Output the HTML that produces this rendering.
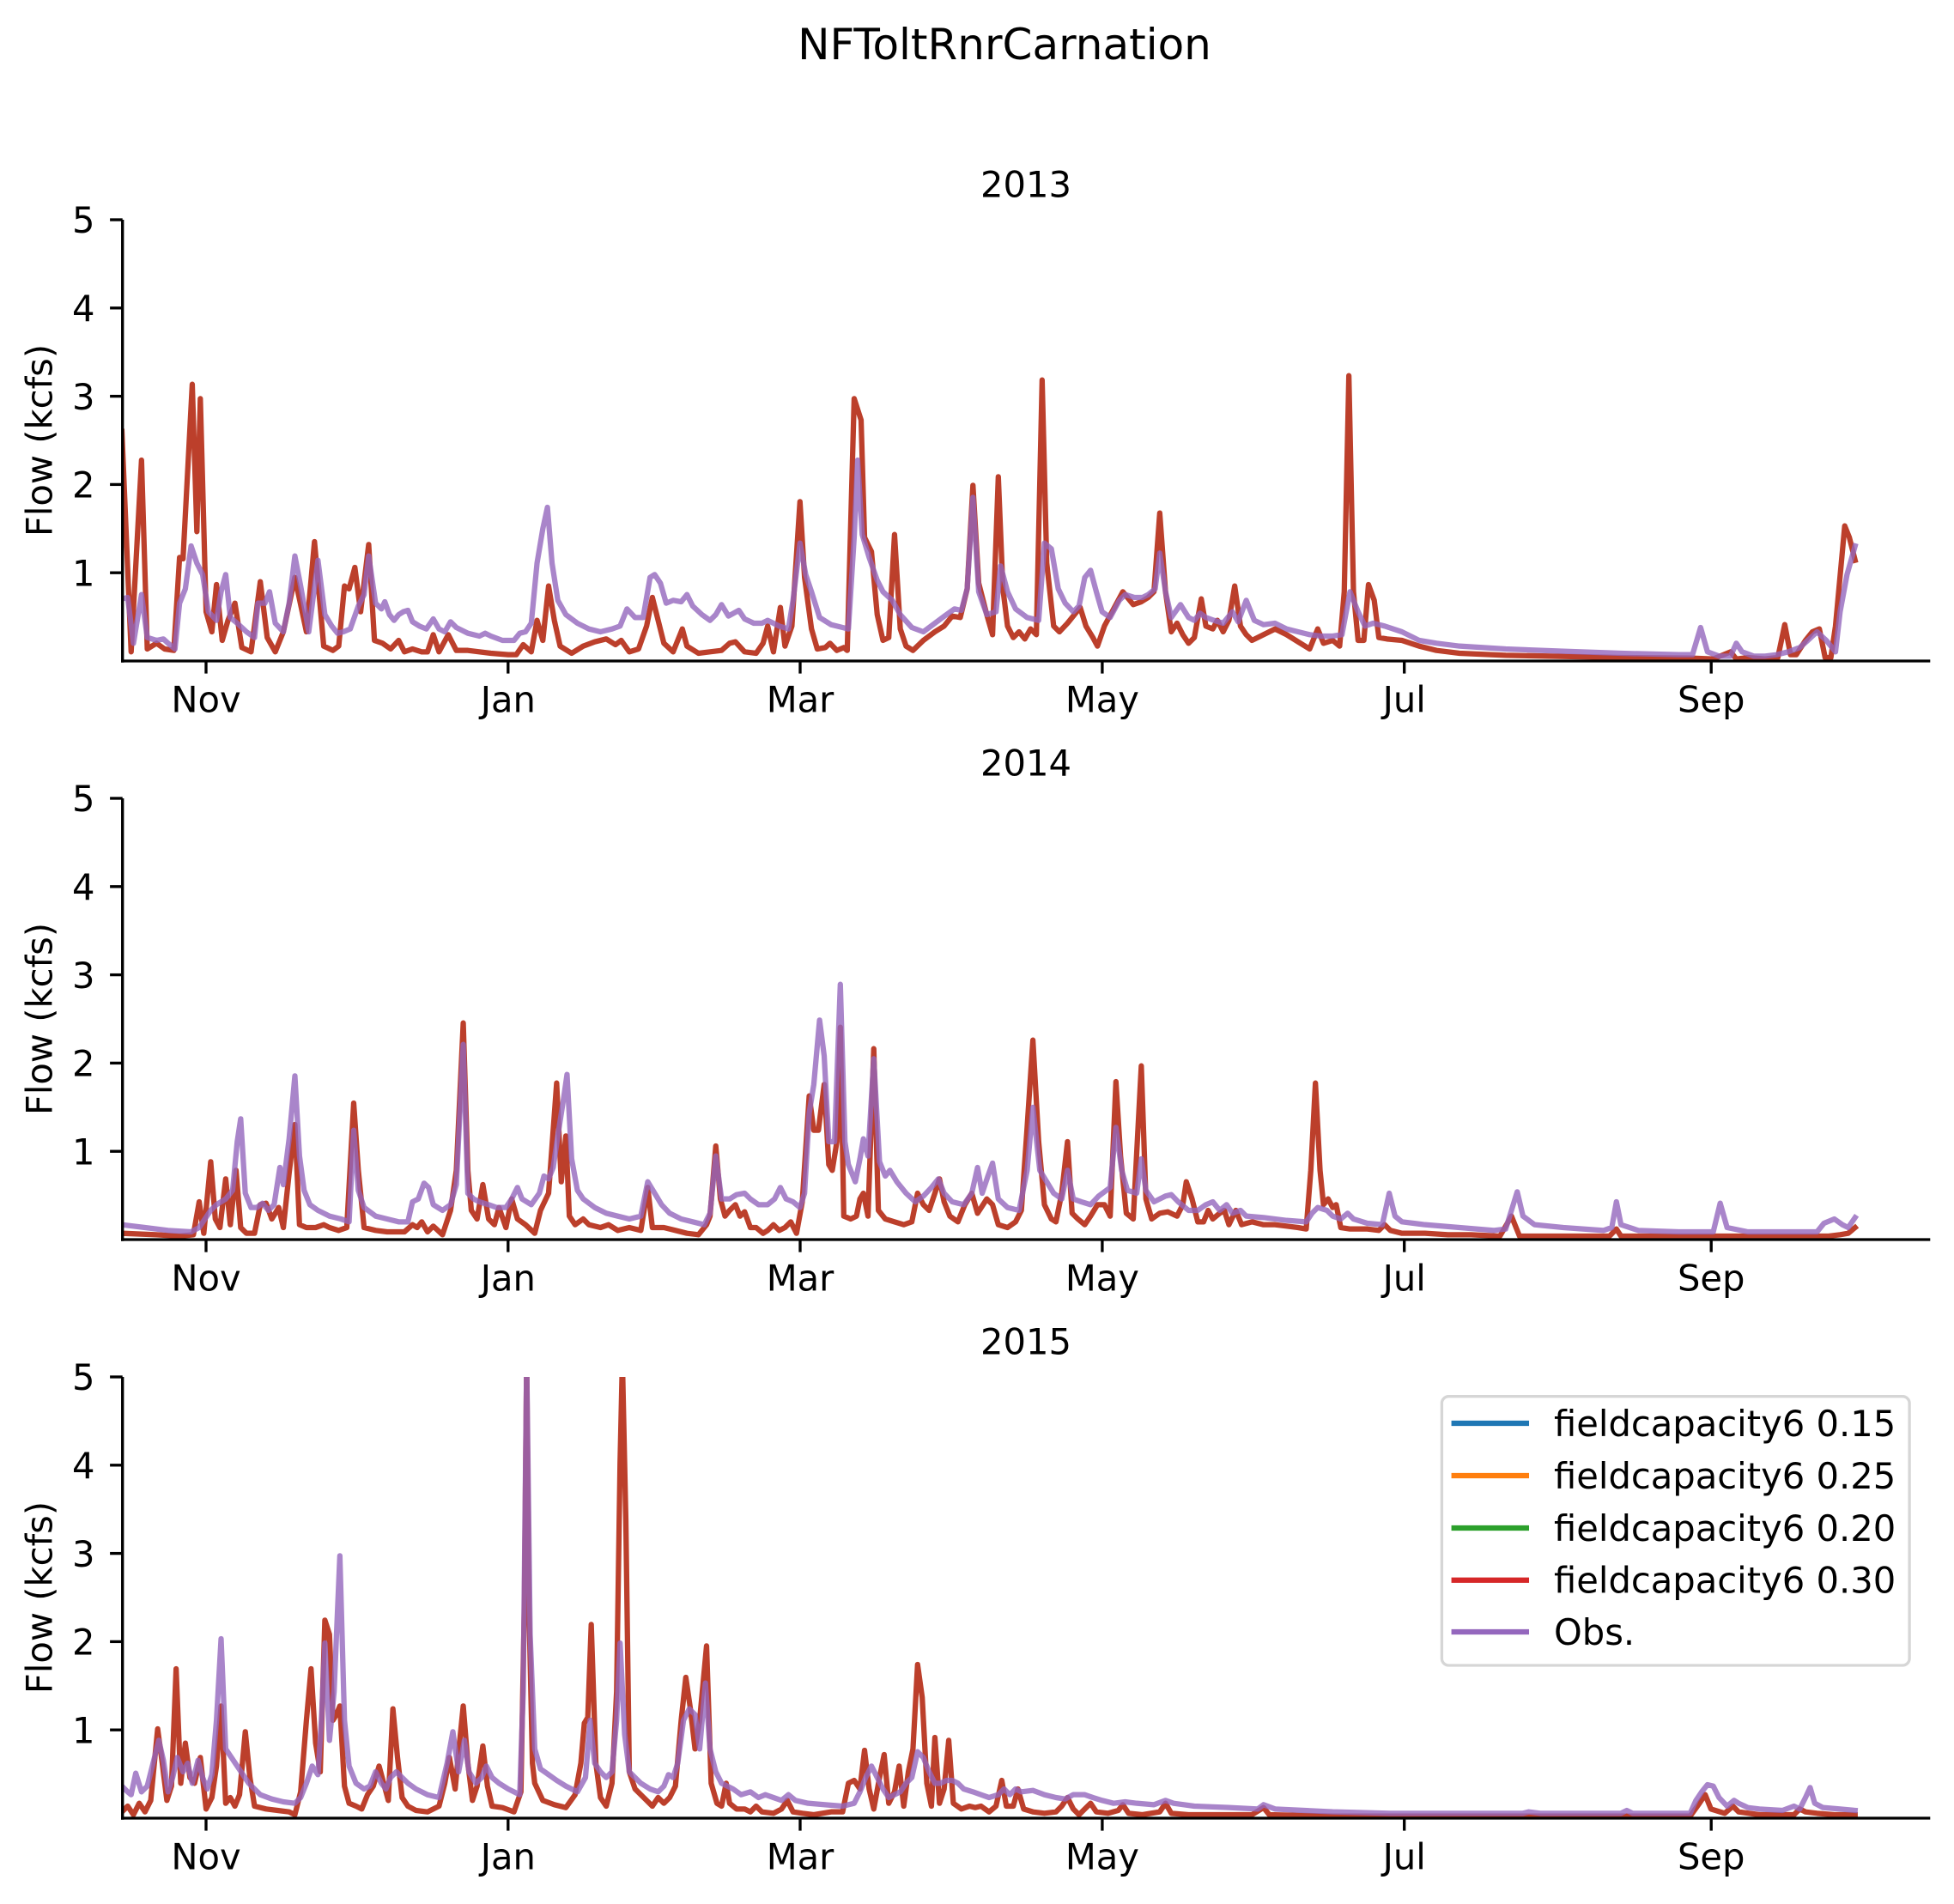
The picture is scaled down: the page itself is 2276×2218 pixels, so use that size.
<!DOCTYPE html>
<html>
<head>
<meta charset="utf-8">
<style>
html,body{margin:0;padding:0;background:#fff;}
body{width:2276px;height:2218px;overflow:hidden;}
svg{display:block;}
text{font-family:"DejaVu Sans","Liberation Sans",sans-serif;fill:#000;}
.m{fill:none;stroke:#bc3f2b;stroke-width:6.25;stroke-linejoin:round;stroke-linecap:square;}
.o{fill:none;stroke:#9467bd;stroke-opacity:0.8;stroke-width:6.25;stroke-linejoin:round;stroke-linecap:square;}
.ax{stroke:#000;stroke-width:3.33;fill:none;}
.tl{font-size:41.67px;}
</style>
</head>
<body>
<svg width="2276" height="2218" viewBox="0 0 2276 2218" xmlns="http://www.w3.org/2000/svg">
<defs>
<clipPath id="c1" clipPathUnits="userSpaceOnUse"><rect x="142.7" y="256" width="2105.3" height="514"/></clipPath>
<clipPath id="c2" clipPathUnits="userSpaceOnUse"><rect x="142.7" y="930" width="2105.3" height="514"/></clipPath>
<clipPath id="c3" clipPathUnits="userSpaceOnUse"><rect x="142.7" y="1604" width="2105.3" height="514"/></clipPath>
</defs>
<rect x="0" y="0" width="2276" height="2218" fill="#fff"/>

<text x="1170" y="69" font-size="50" text-anchor="middle">NFToltRnrCarnation</text>

<!-- ================= PANEL 1 ================= -->
<text x="1195" y="229.3" class="tl" text-anchor="middle">2013</text>
<g clip-path="url(#c1)">
<g transform="translate(142,256) scale(1.34318,0.333333)">
<polyline class="m" vector-effect="non-scaling-stroke" points="0,740 8,1510 17,840 22,1500 30,1480 37,1500 45,1505 50,1180 53,1185 61,575 65,1090 68,625 73,1370 78,1440 82,1275 87,1470 92,1400 98,1340 104,1495 112,1510 120,1265 126,1460 133,1510 140,1440 150,1250 160,1440 167,1125 175,1490 183,1505 188,1490 193,1280 197,1290 202,1215 207,1370 214,1135 219,1470 226,1480 233,1500 240,1470 245,1510 252,1500 260,1510 265,1510 270,1450 275,1510 283,1450 290,1505 300,1505 320,1515 335,1520 342,1520 348,1485 355,1510 360,1400 365,1470 370,1280 375,1400 380,1490 390,1515 400,1490 410,1475 420,1465 428,1485 433,1470 440,1510 448,1500 455,1420 460,1320 465,1400 470,1480 478,1510 486,1430 490,1490 500,1515 510,1510 520,1505 527,1480 532,1475 540,1510 550,1515 556,1480 560,1420 565,1510 571,1355 575,1490 581,1420 588,985 592,1250 598,1430 603,1500 610,1495 614,1480 620,1505 626,1495 629,1505 635,625 641,700 644,1110 650,1160 655,1380 660,1470 665,1460 670,1100 675,1430 680,1490 686,1505 695,1470 705,1440 713,1420 720,1385 727,1390 733,1290 738,928 743,1270 750,1380 755,1450 760,898 764,1290 768,1420 773,1460 778,1440 783,1465 788,1430 793,1450 798,560 802,1200 808,1420 813,1440 820,1410 826,1380 831,1355 836,1420 842,1460 846,1490 852,1420 860,1360 868,1300 872,1320 877,1345 884,1335 890,1320 895,1300 900,1025 905,1300 910,1440 915,1410 920,1450 925,1480 930,1460 936,1325 940,1420 946,1430 950,1400 955,1440 960,1400 965,1280 970,1420 975,1450 980,1470 990,1450 1000,1430 1010,1450 1020,1475 1030,1500 1037,1430 1042,1480 1050,1470 1056,1490 1060,1300 1064,545 1068,1300 1072,1470 1077,1470 1081,1275 1086,1330 1090,1460 1097,1465 1110,1470 1125,1490 1140,1505 1160,1515 1200,1522 1300,1530 1360,1532 1380,1535 1395,1510 1400,1535 1410,1530 1425,1535 1436,1530 1442,1415 1447,1520 1452,1520 1460,1470 1466,1440 1472,1430 1477,1530 1482,1530 1486,1420 1494,1070 1498,1110 1503,1190"/>
<polyline class="o" vector-effect="non-scaling-stroke" points="0,1325 5,1320 10,1480 17,1310 22,1460 30,1470 36,1465 40,1480 46,1500 50,1340 55,1290 60,1140 65,1200 70,1240 75,1370 82,1400 86,1300 90,1240 94,1390 100,1410 108,1440 115,1460 118,1340 124,1340 128,1300 133,1410 140,1440 145,1340 150,1175 155,1280 162,1440 170,1190 176,1380 182,1420 187,1445 192,1440 198,1430 205,1350 210,1310 214,1175 220,1340 225,1360 228,1335 232,1380 236,1400 240,1380 244,1370 248,1365 252,1405 258,1420 264,1430 270,1395 275,1430 280,1440 285,1405 290,1425 300,1445 310,1455 315,1445 320,1455 330,1470 340,1470 345,1445 350,1440 355,1410 360,1200 365,1080 369,1005 373,1200 378,1330 385,1380 395,1410 405,1430 415,1440 425,1430 432,1420 438,1360 445,1390 452,1390 458,1250 462,1240 467,1270 472,1340 478,1330 485,1335 490,1310 495,1350 503,1380 510,1400 515,1380 520,1345 526,1385 535,1365 540,1395 548,1410 555,1410 560,1400 570,1420 578,1430 582,1330 588,1130 593,1240 598,1300 605,1390 615,1415 625,1425 630,1430 635,1110 638,840 642,1100 648,1180 655,1260 660,1300 668,1330 675,1380 685,1425 695,1440 705,1410 715,1380 722,1360 728,1365 733,1290 738,970 743,1300 750,1380 758,1370 762,1210 768,1300 775,1360 785,1390 795,1400 800,1130 806,1150 812,1290 818,1340 825,1370 830,1350 835,1250 840,1225 845,1300 850,1370 857,1390 865,1330 870,1310 878,1320 885,1320 890,1310 896,1290 900,1165 905,1300 910,1390 918,1345 925,1390 930,1400 935,1375 940,1390 947,1400 955,1410 963,1370 968,1405 975,1330 982,1400 990,1415 1000,1410 1010,1430 1020,1440 1030,1450 1040,1455 1050,1455 1058,1450 1065,1300 1072,1370 1078,1420 1085,1410 1095,1420 1110,1440 1125,1470 1140,1480 1160,1490 1200,1500 1250,1508 1300,1515 1350,1520 1362,1520 1369,1425 1375,1510 1385,1525 1395,1525 1400,1480 1405,1510 1415,1525 1425,1525 1435,1520 1445,1510 1455,1495 1462,1470 1470,1440 1478,1470 1486,1510 1490,1370 1496,1240 1503,1140"/>
</g>
</g>
<!-- axes 1 -->
<line class="ax" x1="142.7" y1="256" x2="142.7" y2="771.7"/>
<line class="ax" x1="141" y1="770" x2="2248.3" y2="770"/>
<g class="ax">
<line x1="128.1" y1="256" x2="142.7" y2="256"/>
<line x1="128.1" y1="358.8" x2="142.7" y2="358.8"/>
<line x1="128.1" y1="461.6" x2="142.7" y2="461.6"/>
<line x1="128.1" y1="564.4" x2="142.7" y2="564.4"/>
<line x1="128.1" y1="667.2" x2="142.7" y2="667.2"/>
<line x1="240" y1="770" x2="240" y2="784.6"/>
<line x1="591.8" y1="770" x2="591.8" y2="784.6"/>
<line x1="932" y1="770" x2="932" y2="784.6"/>
<line x1="1283.9" y1="770" x2="1283.9" y2="784.6"/>
<line x1="1635.7" y1="770" x2="1635.7" y2="784.6"/>
<line x1="1993.2" y1="770" x2="1993.2" y2="784.6"/>
</g>
<g class="tl" text-anchor="end">
<text x="110.5" y="271.2">5</text>
<text x="110.5" y="374">4</text>
<text x="110.5" y="476.8">3</text>
<text x="110.5" y="579.6">2</text>
<text x="110.5" y="682.4">1</text>
</g>
<g class="tl" text-anchor="middle">
<text x="240" y="829.5">Nov</text>
<text x="591.8" y="829.5">Jan</text>
<text x="932" y="829.5">Mar</text>
<text x="1283.9" y="829.5">May</text>
<text x="1635.7" y="829.5">Jul</text>
<text x="1993.2" y="829.5">Sep</text>
</g>
<text class="tl" transform="translate(60.5,513) rotate(-90)" text-anchor="middle">Flow (kcfs)</text>

<!-- ================= PANEL 2 ================= -->
<text x="1195" y="903.3" class="tl" text-anchor="middle">2014</text>
<g clip-path="url(#c2)">
<g transform="translate(142,930) scale(1.34318,0.333333)">
<polyline class="m" vector-effect="non-scaling-stroke" points="0,1520 30,1525 50,1530 62,1525 67,1410 71,1520 77,1270 81,1470 85,1500 90,1330 94,1490 99,1300 103,1500 108,1520 115,1520 120,1420 125,1415 130,1470 136,1430 140,1500 145,1310 150,1140 154,1490 160,1500 168,1500 175,1490 180,1500 188,1510 195,1500 201,1065 205,1300 210,1500 220,1510 230,1515 245,1515 252,1490 256,1500 260,1480 265,1515 270,1495 278,1525 285,1440 290,1300 296,785 300,1300 303,1440 308,1470 313,1350 318,1470 323,1490 327,1430 333,1500 338,1400 343,1470 350,1490 358,1520 363,1440 370,1380 377,995 381,1340 385,1180 388,1460 393,1490 400,1470 405,1490 415,1500 422,1490 430,1510 440,1500 450,1510 456,1360 460,1500 470,1500 480,1510 490,1520 500,1525 507,1490 510,1460 515,1215 519,1400 523,1460 527,1440 532,1420 536,1460 540,1445 545,1500 550,1500 556,1520 560,1510 565,1490 570,1510 575,1500 580,1480 585,1520 590,1410 596,1040 600,1160 604,1160 609,1000 613,1280 616,1300 620,1200 623,800 626,1460 632,1470 637,1460 640,1400 643,1380 647,1460 652,875 656,1440 662,1470 670,1480 678,1490 685,1480 690,1380 695,1420 700,1440 705,1380 709,1330 713,1410 718,1460 725,1480 731,1420 737,1380 742,1450 750,1400 755,1420 760,1490 768,1500 775,1480 780,1440 785,1150 790,845 795,1200 800,1420 806,1470 810,1480 815,1380 820,1200 824,1450 829,1470 835,1490 840,1460 846,1420 852,1420 857,1460 862,990 866,1250 871,1450 877,1470 884,935 888,1400 893,1470 900,1450 907,1445 915,1460 920,1420 923,1340 928,1400 933,1480 938,1480 942,1440 946,1470 952,1450 956,1440 960,1490 966,1440 971,1490 980,1480 990,1490 1000,1490 1010,1495 1020,1500 1027,1505 1031,1300 1035,995 1039,1300 1042,1420 1046,1400 1050,1430 1053,1420 1057,1500 1065,1505 1080,1505 1090,1510 1095,1490 1100,1510 1110,1520 1130,1520 1150,1525 1170,1525 1195,1530 1205,1460 1212,1530 1230,1530 1260,1530 1290,1530 1296,1505 1300,1530 1330,1530 1370,1530 1400,1530 1450,1530 1480,1530 1490,1525 1497,1520 1503,1500"/>
<polyline class="o" vector-effect="non-scaling-stroke" points="0,1490 20,1500 40,1510 60,1515 67,1500 72,1470 77,1440 82,1420 90,1400 96,1370 100,1200 103,1120 107,1380 112,1430 117,1430 122,1415 127,1440 132,1420 137,1290 140,1350 145,1190 150,970 154,1250 158,1370 163,1420 170,1440 180,1460 190,1470 197,1480 201,1160 205,1370 210,1430 220,1460 230,1470 240,1480 248,1480 252,1410 257,1400 262,1345 266,1360 270,1420 278,1440 285,1420 290,1350 296,860 300,1380 305,1400 310,1410 318,1420 325,1430 333,1430 338,1400 343,1360 347,1400 355,1420 362,1380 366,1320 370,1330 374,1290 378,1180 383,1050 386,965 390,1260 395,1370 400,1400 410,1430 420,1450 430,1460 440,1470 450,1460 456,1340 462,1380 468,1420 475,1450 485,1470 495,1480 505,1490 510,1450 515,1250 520,1400 527,1400 533,1385 540,1380 545,1400 552,1420 560,1420 566,1400 571,1360 576,1400 582,1410 588,1430 592,1380 596,1100 600,1000 605,775 609,900 613,1200 618,1200 623,650 627,1200 630,1280 636,1340 640,1260 643,1190 647,1250 652,910 657,1270 662,1320 666,1300 672,1340 680,1380 688,1410 695,1390 702,1360 708,1330 713,1380 720,1410 730,1420 737,1380 742,1290 746,1380 751,1320 755,1275 760,1400 768,1430 778,1440 785,1300 790,1080 796,1300 802,1340 808,1380 815,1400 820,1300 825,1400 832,1410 840,1420 847,1390 852,1375 857,1360 862,1150 867,1300 872,1370 880,1380 884,1260 888,1370 895,1410 905,1390 910,1385 916,1410 925,1440 933,1440 940,1420 946,1410 952,1440 958,1420 963,1450 970,1440 975,1460 990,1465 1010,1475 1027,1480 1032,1450 1037,1430 1045,1440 1050,1460 1057,1470 1063,1450 1068,1470 1080,1485 1093,1490 1099,1380 1104,1460 1110,1480 1130,1490 1160,1500 1190,1510 1200,1505 1205,1440 1210,1375 1215,1460 1225,1490 1250,1500 1285,1510 1292,1500 1296,1410 1300,1490 1315,1510 1350,1515 1380,1515 1386,1415 1392,1500 1410,1515 1440,1515 1470,1515 1476,1485 1485,1470 1492,1490 1497,1500 1503,1465"/>
</g>
</g>
<!-- axes 2 -->
<line class="ax" x1="142.7" y1="930" x2="142.7" y2="1445.7"/>
<line class="ax" x1="141" y1="1444" x2="2248.3" y2="1444"/>
<g class="ax">
<line x1="128.1" y1="930" x2="142.7" y2="930"/>
<line x1="128.1" y1="1032.8" x2="142.7" y2="1032.8"/>
<line x1="128.1" y1="1135.6" x2="142.7" y2="1135.6"/>
<line x1="128.1" y1="1238.4" x2="142.7" y2="1238.4"/>
<line x1="128.1" y1="1341.2" x2="142.7" y2="1341.2"/>
<line x1="240" y1="1444" x2="240" y2="1458.6"/>
<line x1="591.8" y1="1444" x2="591.8" y2="1458.6"/>
<line x1="932" y1="1444" x2="932" y2="1458.6"/>
<line x1="1283.9" y1="1444" x2="1283.9" y2="1458.6"/>
<line x1="1635.7" y1="1444" x2="1635.7" y2="1458.6"/>
<line x1="1993.2" y1="1444" x2="1993.2" y2="1458.6"/>
</g>
<g class="tl" text-anchor="end">
<text x="110.5" y="945.2">5</text>
<text x="110.5" y="1048">4</text>
<text x="110.5" y="1150.8">3</text>
<text x="110.5" y="1253.6">2</text>
<text x="110.5" y="1356.4">1</text>
</g>
<g class="tl" text-anchor="middle">
<text x="240" y="1503.5">Nov</text>
<text x="591.8" y="1503.5">Jan</text>
<text x="932" y="1503.5">Mar</text>
<text x="1283.9" y="1503.5">May</text>
<text x="1635.7" y="1503.5">Jul</text>
<text x="1993.2" y="1503.5">Sep</text>
</g>
<text class="tl" transform="translate(60.5,1187) rotate(-90)" text-anchor="middle">Flow (kcfs)</text>

<!-- ================= PANEL 3 ================= -->
<text x="1195" y="1577.3" class="tl" text-anchor="middle">2015</text>
<g clip-path="url(#c3)">
<g transform="translate(142,1604) scale(1.34318,0.333333)">
<polyline class="m" vector-effect="non-scaling-stroke" points="0,1520 5,1500 10,1530 15,1490 20,1520 25,1480 31,1230 35,1350 39,1480 43,1430 47,1020 51,1420 55,1280 59,1400 63,1420 68,1330 73,1510 78,1470 82,1360 86,1150 90,1490 94,1470 98,1500 102,1460 107,1240 111,1400 115,1500 125,1510 135,1515 145,1520 150,1530 155,1450 160,1200 164,1020 168,1280 172,1380 176,850 180,900 183,1200 186,1180 189,1150 193,1430 197,1490 203,1500 208,1510 213,1460 218,1430 223,1360 227,1420 231,1480 235,1160 239,1330 243,1470 248,1500 255,1515 265,1520 275,1500 280,1420 284,1330 289,1440 292,1310 296,1150 300,1350 304,1480 308,1430 313,1290 317,1430 321,1500 330,1505 340,1520 346,1450 349,800 351,-60 353,800 356,1350 358,1420 365,1480 375,1495 385,1505 393,1460 398,1350 401,1210 404,1190 407,865 411,1350 415,1470 420,1500 425,1420 429,1100 432,300 434,-60 437,500 440,1380 445,1440 450,1460 455,1480 460,1500 465,1470 470,1490 475,1470 480,1430 485,1200 489,1050 493,1160 497,1300 501,1200 507,940 511,1420 516,1490 520,1500 524,1420 527,1490 533,1510 540,1510 545,1520 550,1500 555,1520 565,1525 572,1510 577,1480 582,1520 590,1525 600,1530 615,1520 625,1520 630,1420 635,1410 640,1440 644,1305 648,1440 652,1510 657,1400 661,1320 665,1490 670,1450 674,1360 678,1500 682,1380 686,1300 690,1005 694,1120 698,1420 702,1500 705,1260 709,1490 713,1440 717,1270 721,1490 728,1510 735,1500 740,1505 745,1500 752,1520 758,1500 763,1410 767,1500 773,1500 777,1440 782,1510 790,1520 800,1525 810,1520 815,1500 820,1470 825,1510 830,1530 835,1510 840,1490 845,1520 855,1525 864,1515 868,1495 873,1525 885,1530 900,1520 905,1490 910,1525 925,1530 950,1530 980,1530 990,1505 995,1530 1050,1535 1100,1535 1150,1535 1200,1535 1300,1535 1360,1535 1368,1490 1373,1460 1378,1510 1390,1525 1397,1500 1402,1520 1420,1530 1445,1530 1450,1530 1455,1510 1460,1520 1470,1525 1485,1530 1503,1530"/>
<polyline class="o" vector-effect="non-scaling-stroke" points="0,1430 5,1450 8,1460 12,1385 17,1450 22,1430 27,1350 32,1270 36,1340 40,1450 44,1400 48,1330 53,1380 57,1350 61,1420 66,1340 70,1400 74,1440 78,1390 82,1200 86,915 90,1300 95,1330 100,1360 105,1390 110,1420 120,1460 130,1475 140,1485 150,1490 155,1470 160,1420 165,1360 170,1390 173,1200 176,930 180,1270 184,1100 189,625 193,1200 197,1360 203,1420 210,1440 215,1430 220,1380 225,1420 229,1440 233,1400 238,1380 243,1400 248,1420 255,1440 265,1460 275,1470 282,1350 287,1240 292,1380 297,1270 301,1380 307,1420 312,1400 316,1360 321,1400 327,1420 335,1440 345,1460 348,1100 351,-60 354,900 358,1300 363,1370 370,1390 377,1410 385,1430 395,1450 402,1400 406,1200 410,1350 415,1380 420,1400 425,1380 429,1200 432,930 436,1250 440,1380 445,1400 450,1420 458,1440 465,1450 470,1430 474,1390 478,1400 482,1350 487,1200 492,1160 497,1180 501,1300 506,1070 510,1300 515,1380 520,1420 525,1430 530,1440 537,1460 545,1450 552,1470 558,1460 565,1470 572,1480 578,1460 584,1480 595,1490 610,1495 625,1500 635,1490 640,1450 645,1400 650,1360 655,1400 660,1440 665,1470 670,1460 675,1450 680,1420 685,1400 690,1310 695,1330 700,1380 705,1420 710,1420 715,1410 720,1410 725,1420 730,1440 738,1450 745,1460 752,1470 760,1460 765,1440 770,1460 775,1440 780,1450 790,1445 800,1460 810,1470 818,1475 825,1460 835,1460 842,1470 850,1480 860,1490 870,1485 880,1490 895,1495 905,1480 912,1490 930,1500 960,1505 985,1510 990,1495 1000,1510 1050,1520 1100,1525 1150,1525 1215,1525 1220,1520 1230,1525 1300,1525 1305,1515 1310,1525 1360,1525 1365,1480 1370,1450 1375,1425 1380,1430 1385,1470 1392,1500 1398,1480 1402,1490 1410,1505 1420,1510 1440,1515 1450,1500 1455,1510 1460,1470 1464,1435 1468,1490 1475,1505 1490,1510 1503,1515"/>
</g>
</g>
<!-- axes 3 -->
<line class="ax" x1="142.7" y1="1604" x2="142.7" y2="2119.7"/>
<line class="ax" x1="141" y1="2118" x2="2248.3" y2="2118"/>
<g class="ax">
<line x1="128.1" y1="1604" x2="142.7" y2="1604"/>
<line x1="128.1" y1="1706.8" x2="142.7" y2="1706.8"/>
<line x1="128.1" y1="1809.6" x2="142.7" y2="1809.6"/>
<line x1="128.1" y1="1912.4" x2="142.7" y2="1912.4"/>
<line x1="128.1" y1="2015.2" x2="142.7" y2="2015.2"/>
<line x1="240" y1="2118" x2="240" y2="2132.6"/>
<line x1="591.8" y1="2118" x2="591.8" y2="2132.6"/>
<line x1="932" y1="2118" x2="932" y2="2132.6"/>
<line x1="1283.9" y1="2118" x2="1283.9" y2="2132.6"/>
<line x1="1635.7" y1="2118" x2="1635.7" y2="2132.6"/>
<line x1="1993.2" y1="2118" x2="1993.2" y2="2132.6"/>
</g>
<g class="tl" text-anchor="end">
<text x="110.5" y="1619.2">5</text>
<text x="110.5" y="1722">4</text>
<text x="110.5" y="1824.8">3</text>
<text x="110.5" y="1927.6">2</text>
<text x="110.5" y="2030.4">1</text>
</g>
<g class="tl" text-anchor="middle">
<text x="240" y="2177.5">Nov</text>
<text x="591.8" y="2177.5">Jan</text>
<text x="932" y="2177.5">Mar</text>
<text x="1283.9" y="2177.5">May</text>
<text x="1635.7" y="2177.5">Jul</text>
<text x="1993.2" y="2177.5">Sep</text>
</g>
<text class="tl" transform="translate(60.5,1861) rotate(-90)" text-anchor="middle">Flow (kcfs)</text>

<!-- legend -->
<rect x="1679.4" y="1626.7" width="544.7" height="313.3" rx="8" ry="8" fill="#fff" fill-opacity="0.8" stroke="#cccccc" stroke-opacity="0.8" stroke-width="3.33"/>
<g stroke-width="6.25" stroke-linecap="square">
<line x1="1693.7" y1="1658" x2="1777.9" y2="1658" stroke="#1f77b4"/>
<line x1="1693.7" y1="1719" x2="1777.9" y2="1719" stroke="#ff7f0e"/>
<line x1="1693.7" y1="1780" x2="1777.9" y2="1780" stroke="#2ca02c"/>
<line x1="1693.7" y1="1840.7" x2="1777.9" y2="1840.7" stroke="#d62728"/>
<line x1="1693.7" y1="1901" x2="1777.9" y2="1901" stroke="#9467bd"/>
</g>
<g class="tl">
<text x="1810" y="1673">fieldcapacity6 0.15</text>
<text x="1810" y="1734">fieldcapacity6 0.25</text>
<text x="1810" y="1795">fieldcapacity6 0.20</text>
<text x="1810" y="1855.7">fieldcapacity6 0.30</text>
<text x="1810" y="1916">Obs.</text>
</g>
</svg>
</body>
</html>
